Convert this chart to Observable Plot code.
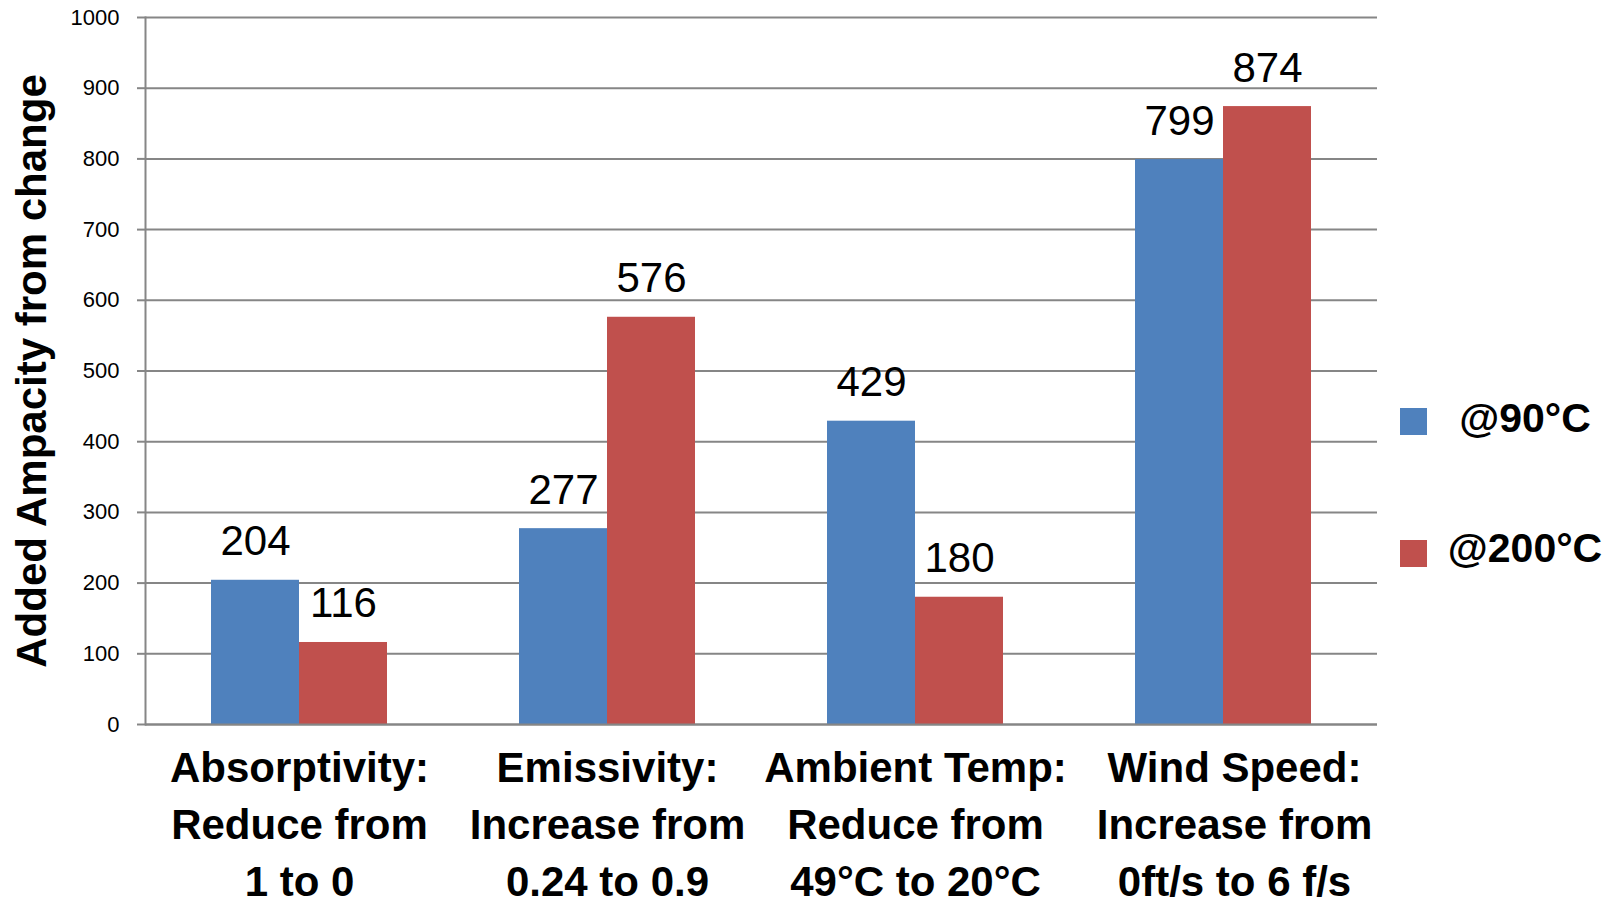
<!DOCTYPE html>
<html><head><meta charset="utf-8">
<script src="https://cdn.jsdelivr.net/npm/d3@7"></script>
<script src="https://cdn.jsdelivr.net/npm/@observablehq/plot@0.6"></script>
<style>
html,body{margin:0;padding:0;background:#fff;}
#wrap{position:relative;width:1617px;height:906px;font-family:"Liberation Sans",Arial,sans-serif;}
.sw{position:absolute;width:27px;height:27px;}
.lt{position:absolute;font-size:41px;font-weight:bold;line-height:41px;transform:translateX(-50%);white-space:nowrap;color:#000;}
</style></head><body><div id="wrap"></div>
<script>
const categories = ["Absorptivity", "Emissivity", "Ambient Temp", "Wind Speed"];
const categoryLabels = [
  "Absorptivity:\nReduce from\n1 to 0",
  "Emissivity:\nIncrease from\n0.24 to 0.9",
  "Ambient Temp:\nReduce from\n49°C to 20°C",
  "Wind Speed:\nIncrease from\n0ft/s to 6 f/s"
];
const seriesNames = ["@90°C", "@200°C"];
const values90 = [204, 277, 429, 799];
const values200 = [116, 576, 180, 874];
const yTicks = [0, 100, 200, 300, 400, 500, 600, 700, 800, 900, 1000];
const yTitle = "Added Ampacity from change";
const colors = ["#4F81BD", "#C0504D"];

const rows90 = categories.map((c, i) => ({category: c, series: seriesNames[0], value: values90[i]}));
const rows200 = categories.map((c, i) => ({category: c, series: seriesNames[1], value: values200[i]}));
const labelRows = categories.map((c, i) => ({category: c, label: categoryLabels[i]}));

const gray = "#868686";
const catTextOpts = {x: "category", text: "label", frameAnchor: "bottom", lineAnchor: "top", dy: 17, lineHeight: 1.36, fontSize: 42, fontWeight: "bold", fill: "black"};
const chart = Plot.plot({
  width: 1617,
  height: 906,
  marginTop: 17,
  marginBottom: 182,
  marginLeft: 145,
  marginRight: 240,
  style: {fontFamily: "Liberation Sans, Arial, sans-serif", background: "white", color: "black"},
  x: {type: "band", domain: categories, padding: 0, axis: null},
  y: {domain: [0, 1000]},
  marks: [
    Plot.gridY(yTicks, {stroke: gray, strokeOpacity: 1, strokeWidth: 2}),
    Plot.barY(rows90, {x: "category", y: "value", fill: colors[0], insetLeft: 66, insetRight: 154}),
    Plot.barY(rows200, {x: "category", y: "value", fill: colors[1], insetLeft: 154, insetRight: 66}),
    Plot.frame({anchor: "left", stroke: gray, strokeWidth: 2}),
    Plot.ruleY([0], {stroke: gray, strokeWidth: 2}),
    Plot.axisY(yTicks, {tickSize: 8, tickPadding: 18, fontSize: 22, stroke: gray, strokeWidth: 2, fill: "black", label: null, tickFormat: d => String(d)}),
    Plot.text(rows90, {x: "category", y: "value", text: d => String(d.value), dx: -44, dy: -25, lineAnchor: "bottom", fontSize: 42, fill: "black"}),
    Plot.text(rows200, {x: "category", y: "value", text: d => String(d.value), dx: 44, dy: -25, lineAnchor: "bottom", fontSize: 42, fill: "black"}),
    Plot.text(labelRows.slice(0, 3), catTextOpts),
    Plot.text(labelRows.slice(3), {...catTextOpts, dx: 11}),
    Plot.text([yTitle], {frameAnchor: "left", textAnchor: "middle", rotate: -90, dx: -113, lineAnchor: "middle", fontSize: 42, fontWeight: "bold", fill: "black"})
  ]
});
const wrap = document.getElementById("wrap");
wrap.appendChild(chart);

const legendPos = [{sq: 408, txt: 398}, {sq: 540, txt: 528}];
seriesNames.forEach((name, i) => {
  const s = document.createElement("div");
  s.className = "sw";
  s.style.left = "1400px";
  s.style.top = legendPos[i].sq + "px";
  s.style.background = colors[i];
  wrap.appendChild(s);
  const t = document.createElement("div");
  t.className = "lt";
  t.style.left = "1525px";
  t.style.top = legendPos[i].txt + "px";
  t.textContent = name;
  wrap.appendChild(t);
});
</script>
</body></html>
